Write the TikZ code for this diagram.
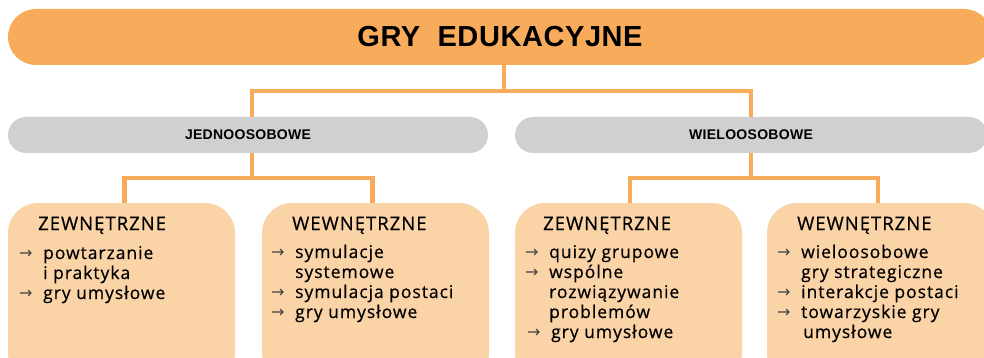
\documentclass[tikz,border=0pt]{standalone}
\usepackage{fontspec}
\setmainfont{Open Sans}[LetterSpace=5.5, FakeBold=0.5]
\newfontfamily\titlefont{Liberation Sans}[LetterSpace=2]
\newfontfamily\arrowfont{DejaVu Sans}
\definecolor{orng}{HTML}{F7AB5B}
\definecolor{peach}{HTML}{FAD3A7}
\definecolor{grayb}{HTML}{D0D0D0}
\definecolor{arrowgray}{HTML}{444444}
\newcommand{\itm}{\makebox[24pt][l]{\raisebox{0.5pt}{\arrowfont\fontsize{16}{20}\selectfont\color{arrowgray}→}}}
\newcommand{\ind}{\hspace*{24pt}}
\tikzset{
  titlebar/.style={fill=orng, minimum width=984pt, minimum height=56pt, rounded corners=28pt, inner sep=0pt},
  graybar/.style={fill=grayb, minimum height=36pt, rounded corners=18pt, inner sep=0pt,
    font=\titlefont\bfseries\fontsize{14}{14}\selectfont},
  catbox/.style={fill=peach, minimum width=227pt, minimum height=180pt, rounded corners=30pt, inner sep=0pt},
  conn/.style={draw=orng, line width=4.5pt},
  head/.style={anchor=base west, inner sep=0pt, font=\fontsize{18.5}{20}\selectfont},
  items/.style={anchor=base west, inner sep=0pt, font=\fontsize{17.5}{20}\selectfont}
}
\begin{document}
\begin{tikzpicture}[x=1pt,y=-1pt]
\useasboundingbox (0,0) rectangle (984,358);
% title
\node[titlebar, font=\titlefont\bfseries\fontsize{29}{29}\selectfont] (title) at (500,37) {GRY\ \ EDUKACYJNE};
% gray bars
\node[graybar, minimum width=480pt] (g1) at (248,135) {JEDNOOSOBOWE};
\node[graybar, minimum width=472pt] (g2) at (751,135) {WIELOOSOBOWE};
% boxes
\node[catbox] (b1) at (121.5,293) {};
\node[catbox] (b2) at (375.5,293) {};
\node[catbox] (b3) at (628.5,293) {};
\node[catbox] (b4) at (880.5,293) {};
% connectors
\draw[conn] ([xshift=4pt]title.south) -- ++(0,26) coordinate (j1);
\draw[conn] ([xshift=4pt]g1.north) |- (j1) -| (g2.north);
\draw[conn] ([xshift=4pt]g1.south) -- ++(0,25) coordinate (j2);
\draw[conn] ([xshift=3pt]b1.north) |- (j2) -| ([xshift=-3pt]b2.north);
\draw[conn] (g2.south) -- ++(0,25) coordinate (j3);
\draw[conn] ([xshift=1.5pt]b3.north) |- (j3) -| ([xshift=-2.5pt]b4.north);
% headings
\node[head] (h1) at (38,230) {ZEWNĘTRZNE};
\node[head] (h2) at (292,230) {WEWNĘTRZNE};
\node[head] (h3) at (543,230) {ZEWNĘTRZNE};
\node[head] (h4) at (797,230) {WEWNĘTRZNE};
% items
\node[items] (t1) at (19,259) {\begin{tabular}[t]{@{}l@{}}
\itm powtarzanie\\
\ind i praktyka\\
\itm gry umysłowe
\end{tabular}};
\node[items] (t2) at (271,258) {\begin{tabular}[t]{@{}l@{}}
\itm symulacje\\
\ind systemowe\\
\itm symulacja postaci\\
\itm gry umysłowe
\end{tabular}};
\node[items] (t3) at (525,258) {\begin{tabular}[t]{@{}l@{}}
\itm quizy grupowe\\
\itm wspólne\\
\ind rozwiązywanie\\
\ind problemów\\
\hspace*{2pt}\itm gry umysłowe
\end{tabular}};
\node[items] (t4) at (777,258) {\begin{tabular}[t]{@{}l@{}}
\itm wieloosobowe\\
\ind gry strategiczne\\
\itm interakcje postaci\\
\itm towarzyskie gry\\
\ind\hspace*{2pt}umysłowe
\end{tabular}};
\end{tikzpicture}
\end{document}
